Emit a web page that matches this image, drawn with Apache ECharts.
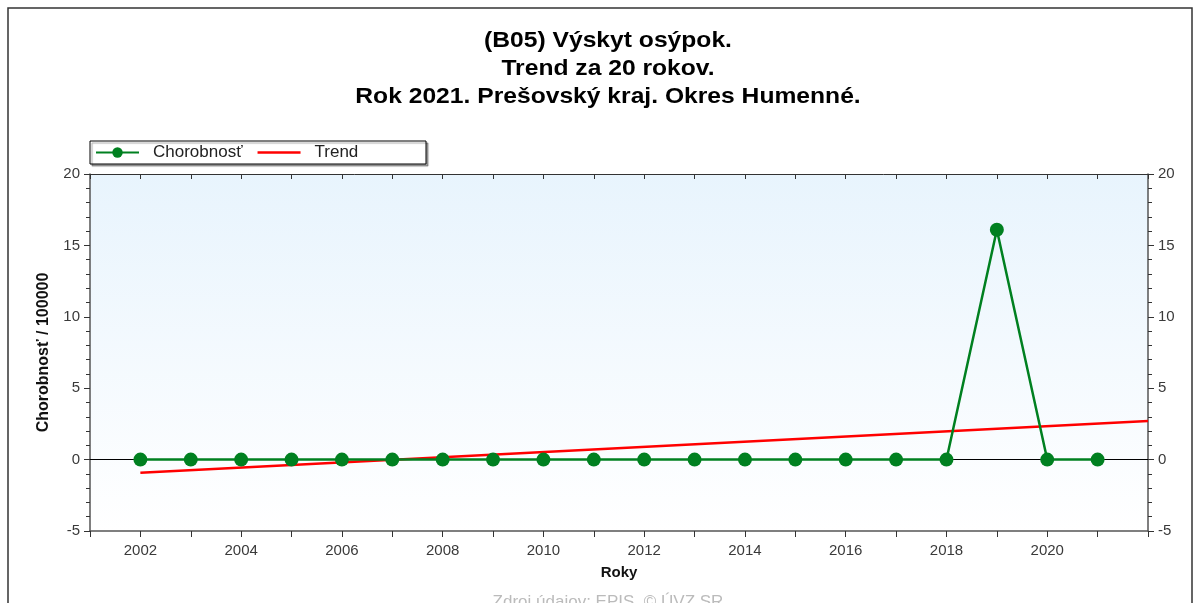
<!DOCTYPE html>
<html>
<head>
<meta charset="utf-8">
<script src="https://cdn.jsdelivr.net/npm/echarts@6/dist/echarts.min.js"></script>
<style>
  html, body { margin: 0; padding: 0; background: #fff; }
  #chart { width: 1195px; height: 603px; }
</style>
</head>
<body>
<div id="chart"></div>
<script>
// data
var years = [2002, 2003, 2004, 2005, 2006, 2007, 2008, 2009, 2010, 2011,
             2012, 2013, 2014, 2015, 2016, 2017, 2018, 2019, 2020, 2021];
var chorobnost = [0, 0, 0, 0, 0, 0, 0, 0, 0, 0,
                  0, 0, 0, 0, 0, 0, 0, 16.1, 0, 0];
var trendYears = [2002, 2022];
var trendValues = [-0.92, 2.71];
var titleLines = ["(B05) Výskyt osýpok.", "Trend za 20 rokov.", "Rok 2021. Prešovský kraj. Okres Humenné."];

var myChart = echarts.init(document.getElementById("chart"));
var font = "Liberation Sans, Arial, sans-serif";
var green = "#008020";

var pairs = function (xs, ys) {
  var out = [];
  for (var i = 0; i < xs.length; i++) out.push([xs[i], ys[i]]);
  return out;
};

var yAxisBase = function (pos) {
  return {
    type: "value",
    position: pos,
    min: -5,
    max: 20,
    interval: 5,
    axisLine: { show: true, lineStyle: { color: "#555", width: 1.5 } },
    axisTick: { show: true, length: 6, lineStyle: { color: "#333" } },
    minorTick: { show: true, splitNumber: 5, length: 4, lineStyle: { color: "#333" } },
    splitLine: { show: false },
    axisLabel: { color: "#3a3a3a", fontFamily: font, fontSize: 15, margin: 10 }
  };
};

// title drawn a bit wider, like the original
var titleGraphic = [];
for (var t = 0; t < titleLines.length; t++) {
  titleGraphic.push({
    type: "text",
    x: 608,
    y: 41 + t * 28,
    scaleX: 1.12,
    style: {
      text: titleLines[t],
      font: "bold 22px " + font,
      fill: "#000",
      align: "center",
      verticalAlign: "middle"
    }
  });
}

var option = {
  animation: false,
  graphic: titleGraphic.concat([
    {
      type: "rect",
      shape: { x: 8, y: 8, width: 1184, height: 620 },
      style: { fill: "none", stroke: "#333", lineWidth: 1.5 },
      z: -10
    },
    {
      type: "rect",
      shape: { x: 90, y: 141, width: 336, height: 23 },
      style: { fill: "#fff", stroke: "#000", lineWidth: 1, shadowColor: "rgba(0,0,0,0.35)", shadowOffsetX: 2, shadowOffsetY: 2, shadowBlur: 1 },
      z: -1
    },
    {
      type: "text",
      x: 608,
      y: 594,
      style: { text: "Zdroj údajov: EPIS, © ÚVZ SR", fill: "#bbb", font: "17px " + font, align: "center", verticalAlign: "top" }
    }
  ]),
  legend: {
    left: 95,
    top: 144,
    itemWidth: 43,
    itemHeight: 13,
    itemGap: 15,
    padding: 0,
    textStyle: { fontFamily: font, fontSize: 17, color: "#222", padding: [0, 0, 0, 9] },
    data: [
      { name: "Chorobnosť" },
      { name: "Trend", icon: "path://M0,0L40,0L40,2.4L0,2.4Z" }
    ]
  },
  grid: {
    left: 90,
    right: 47,
    top: 174,
    bottom: 72,
    show: true,
    borderWidth: 0,
    backgroundColor: new echarts.graphic.LinearGradient(0, 0, 0, 1, [
      { offset: 0, color: "#e8f4fd" },
      { offset: 1, color: "#ffffff" }
    ])
  },
  xAxis: [
    {
      type: "value",
      min: 2001,
      max: 2022,
      interval: 1,
      name: "Roky",
      nameLocation: "middle",
      nameGap: 34,
      nameTextStyle: { fontFamily: font, fontSize: 15, fontWeight: "bold", color: "#111" },
      axisLine: { show: true, onZero: false, lineStyle: { color: "#555", width: 1.5 } },
      axisTick: { show: true, length: 6, lineStyle: { color: "#333" } },
      splitLine: { show: false },
      axisLabel: {
        color: "#3a3a3a",
        fontFamily: font,
        fontSize: 15,
        margin: 12,
        formatter: function (v) { return (v % 2 === 0 && v < 2022) ? String(v) : ""; }
      }
    },
    {
      type: "value",
      position: "top",
      min: 2001,
      max: 2022,
      interval: 1,
      axisLine: { show: true, onZero: false, lineStyle: { color: "#333", width: 1 } },
      axisTick: { show: true, inside: true, length: 5, lineStyle: { color: "#333" } },
      splitLine: { show: false },
      axisLabel: { show: false }
    }
  ],
  yAxis: [
    Object.assign(yAxisBase("left"), {
      name: "Chorobnosť / 100000",
      nameLocation: "middle",
      nameGap: 38,
      nameTextStyle: { fontFamily: font, fontSize: 16, fontWeight: "bold", color: "#111" }
    }),
    yAxisBase("right")
  ],
  series: [
    {
      name: "Trend",
      type: "line",
      data: pairs(trendYears, trendValues),
      symbol: "none",
      lineStyle: { color: "#ff0000", width: 2.5 },
      itemStyle: { color: "#ff0000" },
      z: 2
    },
    {
      name: "Chorobnosť",
      type: "line",
      data: pairs(years, chorobnost),
      symbol: "circle",
      symbolSize: 14,
      lineStyle: { color: green, width: 2.5 },
      itemStyle: { color: green },
      z: 3,
      markLine: {
        silent: true,
        symbol: "none",
        label: { show: false },
        lineStyle: { color: "#000", width: 1, type: "solid" },
        data: [{ yAxis: 0 }],
        z: 1
      }
    }
  ]
};

myChart.setOption(option);
</script>
</body>
</html>
